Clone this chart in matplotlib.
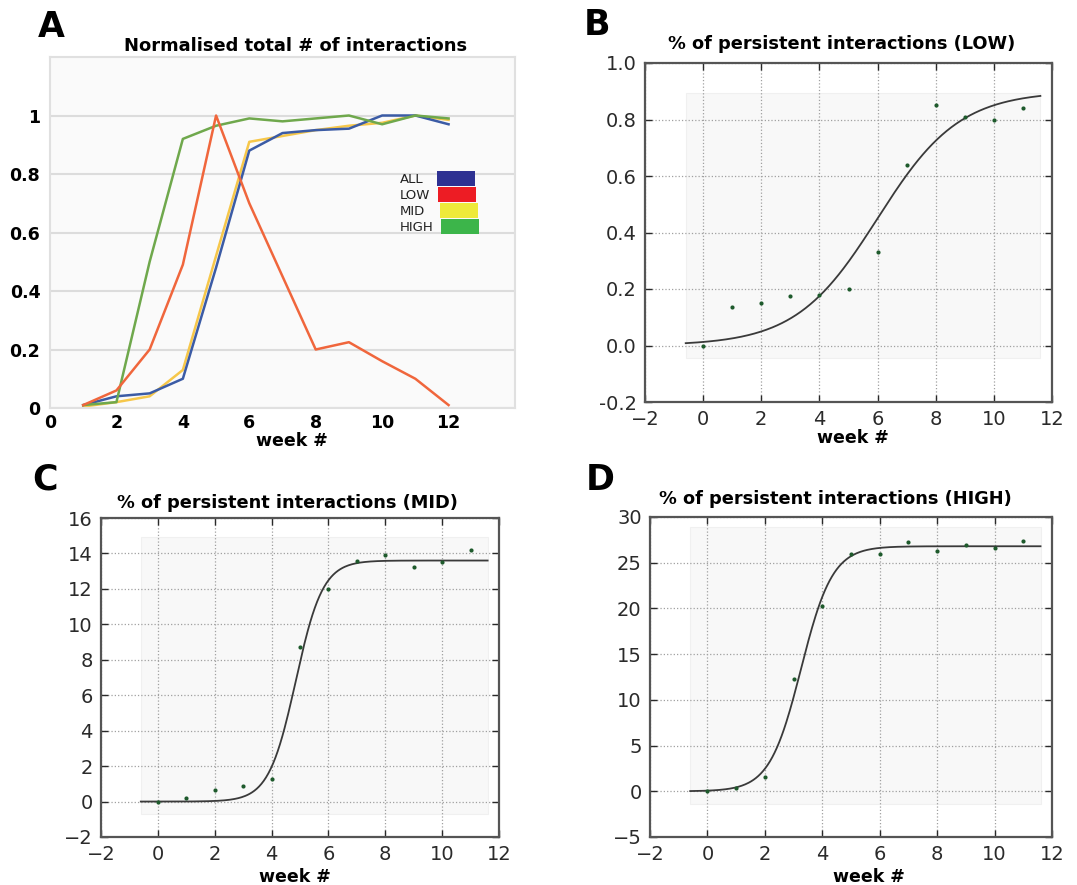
import matplotlib
matplotlib.use('Agg')
import matplotlib.pyplot as plt
import numpy as np
from matplotlib.patches import Rectangle

# ---- panel A data (normalised totals, weeks 1-12) ----
weeks_a = [1, 2, 3, 4, 5, 6, 7, 8, 9, 10, 11, 12]
all_vals = [0.01, 0.04, 0.05, 0.10, 0.48, 0.88, 0.94, 0.95, 0.955, 1.0, 1.0, 0.97]
low_vals = [0.01, 0.06, 0.20, 0.49, 1.0, 0.70, 0.45, 0.20, 0.225, 0.16, 0.10, 0.01]
mid_vals = [0.005, 0.02, 0.04, 0.13, 0.52, 0.91, 0.93, 0.95, 0.965, 0.975, 1.0, 0.985]
high_vals = [0.01, 0.02, 0.50, 0.92, 0.965, 0.99, 0.98, 0.99, 1.0, 0.97, 1.0, 0.99]
group_names = ['ALL', 'LOW', 'MID', 'HIGH']

# ---- panels B-D data (persistent interactions, weeks 0-11) ----
weeks = [0, 1, 2, 3, 4, 5, 6, 7, 8, 9, 10, 11]
pers_low = [0.0, 0.135, 0.15, 0.175, 0.18, 0.20, 0.33, 0.64, 0.85, 0.81, 0.80, 0.84]
pers_mid = [0.0, 0.2, 0.65, 0.9, 1.25, 8.7, 12.0, 13.6, 13.9, 13.25, 13.5, 14.2]
pers_high = [0.0, 0.4, 1.6, 12.3, 20.3, 25.9, 26.0, 27.3, 26.3, 26.9, 26.6, 27.4]

# logistic fit parameters (L, k, x0)
fit_low = (0.90, 0.71, 6.0)
fit_mid = (13.6, 2.1, 4.85)
fit_high = (26.8, 1.82, 3.26)

W, H = 1077, 885
fig = plt.figure(figsize=(W / 100, H / 100), dpi=100)


def px_axes(left, top, right, bottom):
    return fig.add_axes([left / W, 1 - bottom / H, (right - left) / W, (bottom - top) / H])


def fig_text(x, y, s, **kw):
    fig.text(x / W, 1 - y / H, s, ha='center', va='center', **kw)


# ---------------- panel A ----------------
ax = px_axes(50, 57, 515, 408)
ax.set_facecolor('#fafafa')
line_colors = ['#3b5ba5', '#f0663c', '#f6c74a', '#6fa84c']
series = [all_vals, low_vals, mid_vals, high_vals]
order = [2, 0, 3, 1]  # draw order
for i in order:
    ax.plot(weeks_a, series[i], color=line_colors[i], lw=1.8)
ax.set_xlim(0, 14)
ax.set_ylim(0, 1.2)
ax.set_xticks([0, 2, 4, 6, 8, 10, 12])
ax.set_yticks([0, 0.2, 0.4, 0.6, 0.8, 1.0])
ax.set_yticklabels(['0', '0.2', '0.4', '0.6', '0.8', '1'])
ax.tick_params(axis='y', length=0, labelsize=12.5, pad=7)
ax.tick_params(axis='x', length=0, labelsize=12.5, pad=4)
for lab in ax.get_xticklabels() + ax.get_yticklabels():
    lab.set_fontweight('bold')
ax.yaxis.grid(True, color='#dcdcdc', lw=1.5)
ax.set_axisbelow(True)
for s in ax.spines.values():
    s.set_color('#e0e0e0')
    s.set_linewidth(1.5)

# colour key: left-aligned labels with swatches to the right
leg_colors = ['#2e3192', '#ed1c24', '#eeea3a', '#3cb54a']
for j, (name, c) in enumerate(zip(group_names, leg_colors)):
    yc = 0.655 - j * 0.0456  # axes fraction, one row = 16 px
    ax.text(0.753, yc - 0.005, name, transform=ax.transAxes, fontsize=9.5,
            ha='left', va='center', color='#222222')
    ax.add_patch(Rectangle((0.832 + 0.003 * j, yc - 0.003 - 0.02), 0.082, 0.042,
                           transform=ax.transAxes, facecolor=c, edgecolor='none'))

fig_text(296, 46, 'Normalised total # of interactions', fontsize=12.9, fontweight='bold')
fig_text(292, 441, 'week #', fontsize=12.5, fontweight='bold')
fig_text(51, 27, 'A', fontsize=25, fontweight='bold')


# ---------------- panels B-D ----------------
def logistic(x, L, k, x0):
    return L / (1 + np.exp(-k * (x - x0)))


def persist_panel(box, pts, fit, ylim, yticks, shade, title, tpos, lpos, letter, letpos):
    ax = px_axes(*box)
    ax.set_facecolor('white')
    ax.add_patch(Rectangle((-0.6, shade[0]), 12.2, shade[1] - shade[0],
                           facecolor='#f8f8f8', edgecolor='#f0f0f0', lw=0.8, zorder=0))
    xs = np.linspace(-0.6, 11.6, 300)
    ax.plot(xs, logistic(xs, *fit), color='#3a3a3a', lw=1.3, zorder=3)
    ax.scatter(weeks, pts, s=9, color='#1e5a2c', zorder=4, linewidths=0)
    ax.set_xlim(-2, 12)
    ax.set_ylim(*ylim)
    ax.set_xticks([-2, 0, 2, 4, 6, 8, 10, 12])
    ax.set_yticks(yticks)
    ax.grid(True, linestyle=':', color='#a0a0a0', lw=0.9)
    ax.tick_params(direction='in', length=5, width=1, top=True, right=True,
                   labelsize=14, colors='#2a2a2a', pad=6)
    for s in ax.spines.values():
        s.set_color('#555555')
        s.set_linewidth(1.6)
    fig_text(tpos[0], tpos[1], title, fontsize=12.8, fontweight='bold')
    fig_text(lpos[0], lpos[1], 'week #', fontsize=12.5, fontweight='bold')
    fig_text(letpos[0], letpos[1], letter, fontsize=25, fontweight='bold')
    return ax


axb = persist_panel((645, 63, 1052, 402), pers_low, fit_low, (-0.2, 1.0),
                    [-0.2, 0.0, 0.2, 0.4, 0.6, 0.8, 1.0], (-0.045, 0.895),
                    '% of persistent interactions (LOW)', (842, 44), (853, 438), 'B', (597, 25))
axb.set_yticklabels(['-0.2', '0.0', '0.2', '0.4', '0.6', '0.8', '1.0'])

persist_panel((101, 518, 499, 837), pers_mid, fit_mid, (-2, 16),
              [-2, 0, 2, 4, 6, 8, 10, 12, 14, 16], (-0.7, 14.9),
              '% of persistent interactions (MID)', (287, 503), (295, 877), 'C', (45, 480))

persist_panel((650, 517, 1052, 837), pers_high, fit_high, (-5, 30),
              [-5, 0, 5, 10, 15, 20, 25, 30], (-1.4, 28.9),
              '% of persistent interactions (HIGH)', (835, 499), (869, 877), 'D', (600, 480))

fig.savefig('out.png', dpi=100)
